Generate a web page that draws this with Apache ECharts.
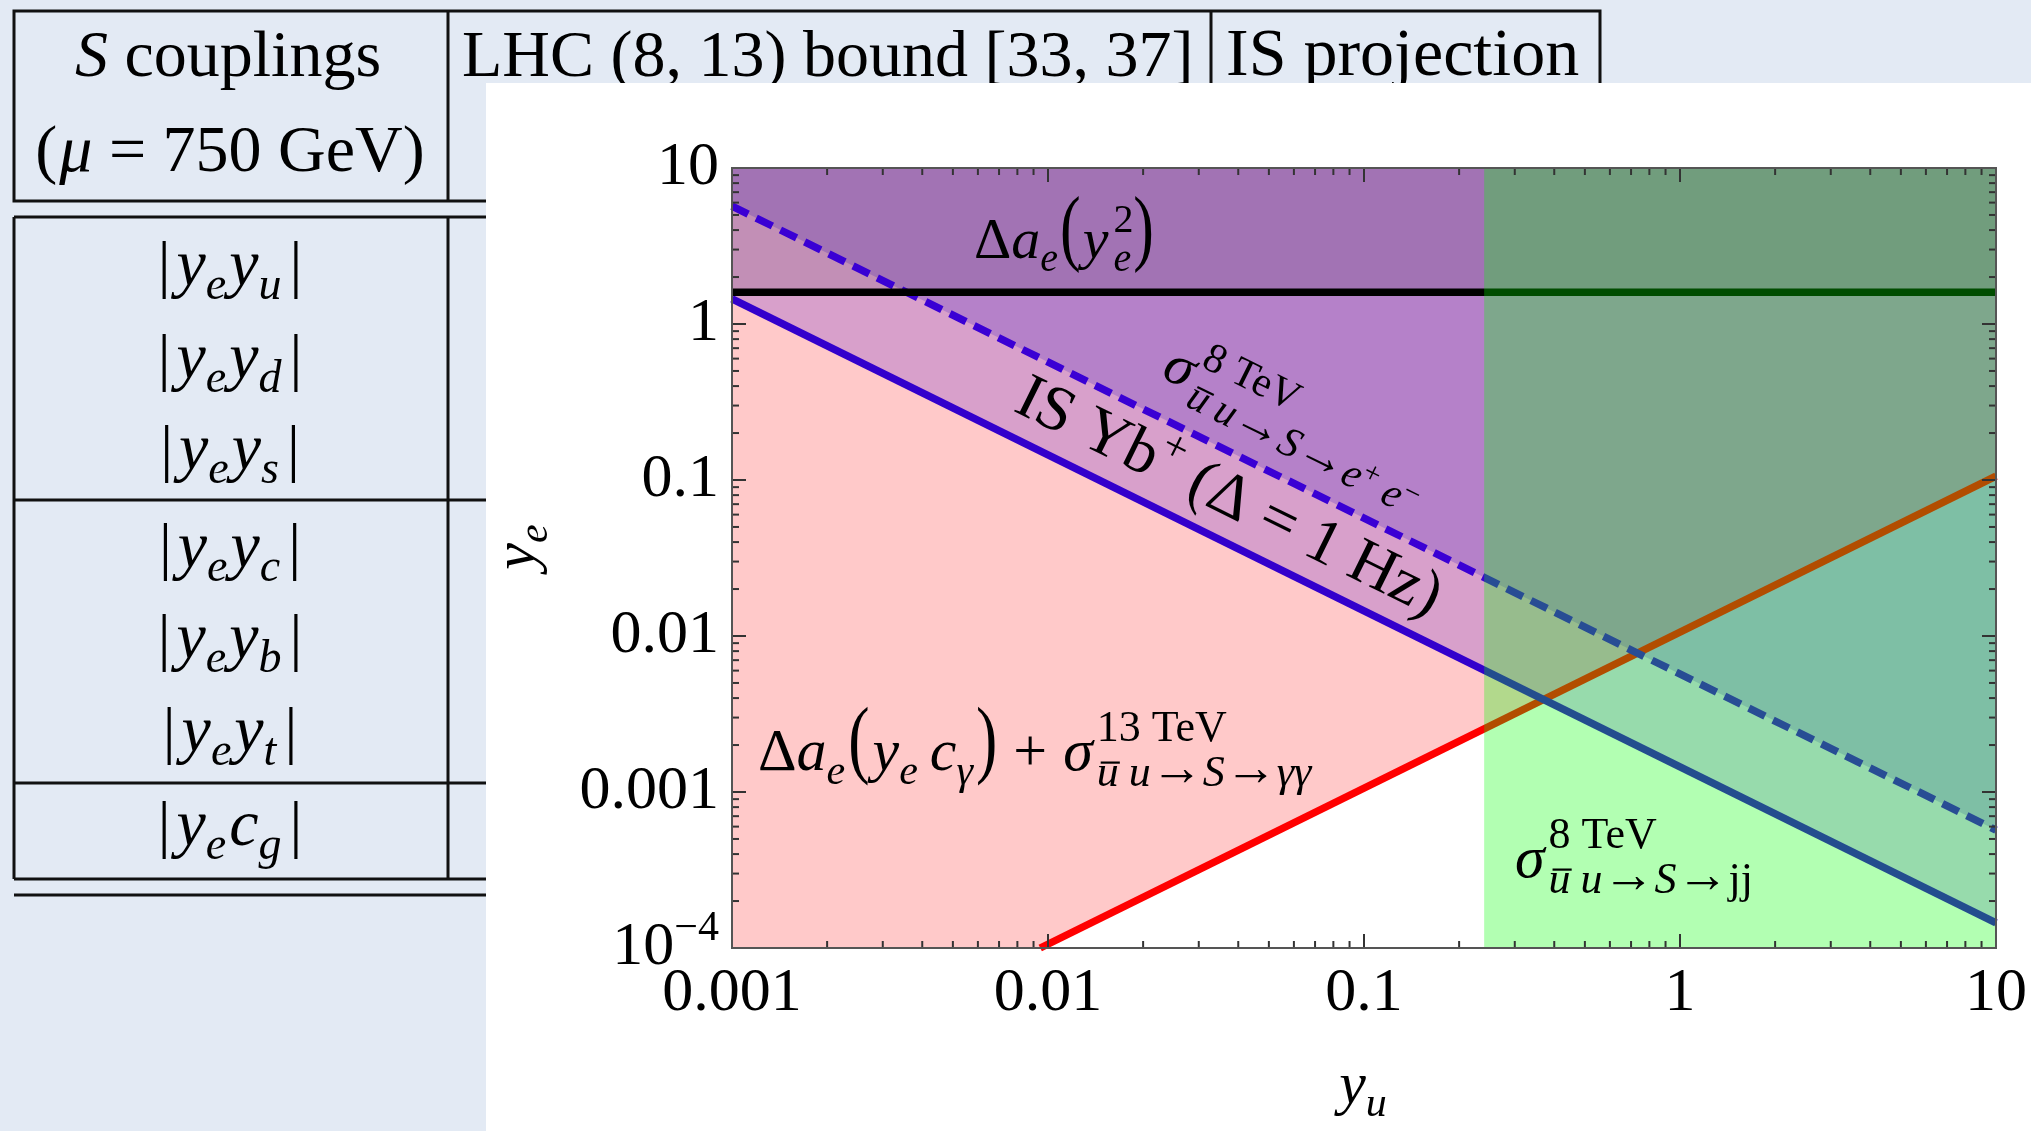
<!DOCTYPE html>
<html><head><meta charset="utf-8">
<script src="https://cdn.jsdelivr.net/npm/echarts@6/dist/echarts.min.js"></script>
<style>html,body{margin:0;padding:0;background:#e3eaf4;} #c{width:2031px;height:1131px;}</style>
</head><body><div id="c"></div>
<script>
// ---------------- data ----------------
const xRange = [0.001, 10];
const yRange = [1e-4, 10];
const xTickValues = [0.001, 0.01, 0.1, 1, 10];
const xTickLabels = ['0.001', '0.01', '0.1', '1', '10'];
const yTickValues = [1e-4, 0.001, 0.01, 0.1, 1, 10];
const yTickLabels = ['10^-4', '0.001', '0.01', '0.1', '1', '10'];
const minorMultipliers = [2, 3, 4, 5, 6, 7, 8, 9];
// boundary curves, points are [y_u, y_e]
const gammaGammaBound = [[0.00945, 1e-4], [10, 0.106]];   // red, excluded above
const isProjection   = [[0.001, 1.45], [10, 1.45e-4]];    // solid blue, IS Yb+
const eeBound        = [[0.001, 5.7], [10, 5.7e-4]];      // dashed, 8 TeV e+e-
const ae2Bound       = [[0.001, 1.6], [10, 1.6]];         // black, Delta a_e(y_e^2)
const jjBoundYu      = [0.24, 10];                        // 8 TeV jj excluded y_u band
const rowSubscripts  = [['y','u'], ['y','d'], ['y','s'], ['y','c'], ['y','b'], ['y','t'], ['c','g']];

// ---------------- helpers ----------------
const FF = '"Liberation Serif", "Times New Roman", serif';
const mctx = document.createElement('canvas').getContext('2d');
function mw(p) { mctx.font = (p.it ? 'italic ' : '') + p.s + 'px ' + FF; return mctx.measureText(p.t).width; }
function math(parts, z) {
  let x = 0; const els = [];
  for (const p of parts) {
    x += (p.k || 0);
    const w = mw(p);
    const dy = p.dy || 0;
    const el = {type: 'text', x: x, y: dy - 0.33 * p.s, z: z,
      style: {text: p.t, fontSize: p.s, fontFamily: FF, fontStyle: p.it ? 'italic' : 'normal', fill: '#000',
        align: 'left', verticalAlign: 'middle', textAlign: 'left', textVerticalAlign: 'middle'}};
    if (p.sy) { el.scaleY = p.sy; el.originX = 0; el.originY = 0.095 * p.s; }
    els.push(el);
    if (p.bar) {
      const by = dy - 0.6 * p.s;
      els.push({type: 'line', z: z, shape: {x1: x + 0.18 * w, y1: by, x2: x + 1.05 * w, y2: by},
        style: {stroke: '#000', lineWidth: Math.max(1.5, p.s * 0.05)}});
    }
    if (!p.na) x += w;
  }
  return {els, width: x};
}
function mathGroup(parts, x, y, rot, center, z) {
  const m = math(parts, z === undefined ? 100 : z);
  if (center) m.els.forEach(e => {
    if (e.type === 'text') e.x -= m.width / 2; else { e.shape.x1 -= m.width / 2; e.shape.x2 -= m.width / 2; }
  });
  return {type: 'group', x: x, y: y, rotation: rot || 0, children: m.els};
}
function isMajor(v, majors) { return majors.some(t => Math.abs(Math.log10(t) - Math.log10(v)) < 1e-6); }
function labelFn(vals, labs) {
  return v => {
    const i = vals.findIndex(t => Math.abs(Math.log10(t) - Math.log10(v)) < 1e-6);
    const s = i >= 0 ? labs[i] : String(v);
    if (s.indexOf('^') >= 0) { const [b, e] = s.split('^'); return '{b|' + b + '}{p|' + e.replace('-', '\u2212') + '}'; }
    return s;
  };
}
function minorTicks(majors) {
  const out = [];
  for (let i = 0; i < majors.length - 1; i++) minorMultipliers.forEach(m => out.push(majors[i] * m));
  return out;
}
const xTicksAll = xTickValues.concat(minorTicks(xTickValues));
const yTicksAll = yTickValues.concat(minorTicks(yTickValues));

function fillAbove(line, color) {
  return {
    type: 'custom', coordinateSystem: 'cartesian2d', z: 2, silent: true, animation: false,
    data: [[xRange[0], yRange[0]]],
    renderItem: (params, api) => {
      const pts = [[xRange[0], yRange[1]]];
      if (line[0][0] > xRange[0]) pts.push([xRange[0], line[0][1]]);
      line.forEach(p => pts.push(p));
      pts.push([xRange[1], yRange[1]]);
      return {type: 'polygon', shape: {points: pts.map(p => api.coord(p))}, style: {fill: color}};
    }
  };
}
function lineSeries(data, color, dash) {
  return {type: 'line', data: data, symbol: 'none', z: 3, animation: false, silent: true, clip: true,
    lineStyle: {color: color, width: 7.5, type: dash || 'solid', cap: 'butt'}};
}

// ---------------- chart ----------------
const chart = echarts.init(document.getElementById('c'), null, {renderer: 'canvas', width: 2031, height: 1131});
const TICK = '#333';
const axisCommon = {axisLine: {show: false}, axisTick: {show: false}, splitLine: {show: false}, minorTick: {show: false}, z: 20};
const option = {
  backgroundColor: '#e3eaf4',
  animation: false,
  grid: {left: 732, top: 168, width: 1264, height: 780, show: false},
  xAxis: Object.assign({type: 'log', logBase: 10, min: xRange[0], max: xRange[1],
    axisLabel: {formatter: labelFn(xTickValues, xTickLabels), fontSize: 62, lineHeight: 62, fontFamily: FF, color: '#000', margin: 15}}, axisCommon),
  yAxis: Object.assign({type: 'log', logBase: 10, min: yRange[0], max: yRange[1],
    axisLabel: {formatter: labelFn(yTickValues, yTickLabels), fontSize: 62, lineHeight: 62, fontFamily: FF, color: '#000', margin: 13,
      rich: {b: {fontSize: 62, fontFamily: FF, lineHeight: 80, verticalAlign: 'middle', color: '#000'},
             p: {fontSize: 42, fontFamily: FF, lineHeight: 42, verticalAlign: 'top', color: '#000'}}}}, axisCommon),
  series: [
    fillAbove(gammaGammaBound, 'rgba(255,0,0,0.21)'),
    fillAbove(isProjection, 'rgba(62,0,216,0.2)'),
    fillAbove(eeBound, 'rgba(39,0,194,0.194)'),
    fillAbove(ae2Bound, 'rgba(0,0,0,0.1)'),
    lineSeries(gammaGammaBound, '#ff0000'),
    lineSeries(isProjection, '#3300cc'),
    lineSeries(eeBound, '#3a00d4', [18, 9]),
    lineSeries(ae2Bound, '#000000'),
    {type: 'custom', coordinateSystem: 'cartesian2d', z: 4, silent: true, data: [[jjBoundYu[0], yRange[0]]],
      renderItem: (params, api) => {
        const a = api.coord([jjBoundYu[0], yRange[1]]), b = api.coord([jjBoundYu[1], yRange[0]]);
        return {type: 'rect', shape: {x: a[0], y: a[1], width: b[0] - a[0], height: b[1] - a[1]}, style: {fill: 'rgba(0,255,0,0.3)'}};
      }},
    {type: 'custom', coordinateSystem: 'cartesian2d', z: 5, silent: true, data: xTicksAll.map(v => [v, yRange[0]]),
      renderItem: (params, api) => {
        const v = xTicksAll[params.dataIndex]; const L = isMajor(v, xTickValues) ? 14 : 7;
        const b = api.coord([v, yRange[0]]), t = api.coord([v, yRange[1]]);
        return {type: 'group', children: [
          {type: 'line', shape: {x1: b[0], y1: b[1], x2: b[0], y2: b[1] - L}, style: {stroke: TICK, lineWidth: 2}},
          {type: 'line', shape: {x1: t[0], y1: t[1], x2: t[0], y2: t[1] + L}, style: {stroke: TICK, lineWidth: 2}}]};
      }},
    {type: 'custom', coordinateSystem: 'cartesian2d', z: 5, silent: true, data: yTicksAll.map(v => [xRange[0], v]),
      renderItem: (params, api) => {
        const v = yTicksAll[params.dataIndex]; const L = isMajor(v, yTickValues) ? 14 : 7;
        const l = api.coord([xRange[0], v]), r = api.coord([xRange[1], v]);
        return {type: 'group', children: [
          {type: 'line', shape: {x1: l[0], y1: l[1], x2: l[0] + L, y2: l[1]}, style: {stroke: TICK, lineWidth: 2}},
          {type: 'line', shape: {x1: r[0], y1: r[1], x2: r[0] - L, y2: r[1]}, style: {stroke: TICK, lineWidth: 2}}]};
      }},
    {type: 'custom', coordinateSystem: 'cartesian2d', z: 6, silent: true, data: [[xRange[0], yRange[0]]],
      renderItem: (params, api) => {
        const a = api.coord([xRange[0], yRange[1]]), b = api.coord([xRange[1], yRange[0]]);
        return {type: 'rect', shape: {x: a[0], y: a[1], width: b[0] - a[0], height: b[1] - a[1]}, style: {fill: 'none', stroke: '#555', lineWidth: 2}};
      }}
  ]
};
chart.setOption(option);

// ---------------- background table + panel + labels ----------------
const p0 = chart.convertToPixel({gridIndex: 0}, isProjection[0]);
const p1 = chart.convertToPixel({gridIndex: 0}, isProjection[1]);
const ang = Math.atan2(p1[1] - p0[1], p1[0] - p0[0]);
const rot = -ang;

const TL = '#111', TW = 3;
function ln(x1, y1, x2, y2) { return {type: 'line', z: 0, shape: {x1, y1, x2, y2}, style: {stroke: TL, lineWidth: TW}}; }
const table = [
  {type: 'rect', z: 0, shape: {x: 14, y: 11, width: 1586, height: 190}, style: {fill: 'none', stroke: TL, lineWidth: TW}},
  ln(448, 11, 448, 201), ln(1211, 11, 1211, 201),
  ln(14, 217, 560, 217), ln(14, 879, 560, 879), ln(14, 217, 14, 879), ln(448, 217, 448, 879),
  ln(14, 500, 560, 500), ln(14, 783, 560, 783), ln(14, 895, 560, 895),
  mathGroup([{t: 'S', s: 66, it: 1}, {t: ' couplings', s: 66}], 228, 80, 0, true, 0),
  mathGroup([{t: '(', s: 66}, {t: '\u03bc', s: 66, it: 1, k: 2}, {t: ' = 750 GeV)', s: 66}], 230, 175, 0, true, 0),
  mathGroup([{t: 'LHC (8, 13) bound [33, 37]', s: 66}], 462, 80, 0, false, 0),
  mathGroup([{t: 'IS projection', s: 68}], 1226, 80, 0, false, 0)
];
const rowCenters = [272, 365, 456, 554, 645, 738, 832];
rowSubscripts.forEach((rs, i) => {
  table.push(mathGroup([
    {t: '|', s: 64}, {t: 'y', s: 66, it: 1, k: 6}, {t: 'e', s: 46, it: 1, dy: 13},
    {t: rs[0], s: 66, it: 1, k: 3}, {t: rs[1], s: 46, it: 1, dy: 13}, {t: '|', s: 64, k: 8}
  ], 230, rowCenters[i] + 17, 0, true, 0));
});
const panel = {type: 'rect', z: 1, shape: {x: 486, y: 83, width: 1545, height: 1048}, style: {fill: '#ffffff'}};

const SUB = 15, SUP = -30;
const labels = [
  // Delta a_e(y_e^2)
  mathGroup([{t: '\u0394', s: 58}, {t: 'a', s: 58, it: 1}, {t: 'e', s: 40, it: 1, dy: 12},
    {t: '(', s: 62, sy: 1.35, dy: -6, k: 2}, {t: 'y', s: 58, it: 1, k: 2},
    {t: '2', s: 40, dy: -27, na: 1, k: 5}, {t: 'e', s: 40, it: 1, dy: 12},
    {t: ')', s: 62, sy: 1.35, dy: -6, k: 2}], 974, 262),
  // Delta a_e(y_e c_gamma) + sigma 13 TeV gamma gamma
  mathGroup([{t: '\u0394', s: 60}, {t: 'a', s: 60, it: 1}, {t: 'e', s: 42, it: 1, dy: 13},
    {t: '(', s: 64, sy: 1.35, dy: -6, k: 3}, {t: 'y', s: 60, it: 1, k: 3}, {t: 'e', s: 42, it: 1, dy: 13},
    {t: 'c', s: 60, it: 1, k: 12}, {t: '\u03b3', s: 42, it: 1, dy: 13}, {t: ')', s: 64, sy: 1.35, dy: -6, k: 3},
    {t: '+', s: 60, k: 16}, {t: '\u03c3', s: 60, it: 1, k: 16},
    {t: '13 TeV', s: 44, dy: SUP, na: 1, k: 4},
    {t: 'u', s: 44, it: 1, dy: SUB, bar: 1}, {t: 'u', s: 44, it: 1, dy: SUB, k: 10},
    {t: '\u2192', s: 52, dy: SUB}, {t: 'S', s: 44, it: 1, dy: SUB}, {t: '\u2192', s: 52, dy: SUB},
    {t: '\u03b3\u03b3', s: 44, it: 1, dy: SUB}], 758, 774),
  // sigma 8 TeV jj
  mathGroup([{t: '\u03c3', s: 60, it: 1}, {t: '8 TeV', s: 44, dy: SUP, na: 1, k: 4},
    {t: 'u', s: 44, it: 1, dy: SUB, bar: 1}, {t: 'u', s: 44, it: 1, dy: SUB, k: 10},
    {t: '\u2192', s: 52, dy: SUB}, {t: 'S', s: 44, it: 1, dy: SUB}, {t: '\u2192', s: 52, dy: SUB},
    {t: 'jj', s: 44, dy: SUB}], 1515, 881),
  // sigma 8 TeV e+e- (rotated)
  mathGroup([{t: '\u03c3', s: 58, it: 1}, {t: '8 TeV', s: 42, dy: -28, na: 1, k: 3},
    {t: 'u', s: 42, it: 1, dy: 14, bar: 1, k: 3}, {t: 'u', s: 42, it: 1, dy: 14, k: 9},
    {t: '\u2192', s: 50, dy: 14}, {t: 'S', s: 42, it: 1, dy: 14}, {t: '\u2192', s: 50, dy: 14},
    {t: 'e', s: 42, it: 1, dy: 14}, {t: '+', s: 30, dy: 0}, {t: 'e', s: 42, it: 1, dy: 14, k: 9},
    {t: '\u2212', s: 30, dy: 0}], 1158, 380, rot),
  // IS Yb+ (Delta = 1 Hz) (rotated)
  mathGroup([{t: 'IS Yb', s: 64}, {t: '+', s: 44, dy: -27}, {t: ' (\u0394 = 1 Hz)', s: 64}], 1010, 414, rot),
  // axis titles
  mathGroup([{t: 'y', s: 60, it: 1}, {t: 'u', s: 42, it: 1, dy: 12}], 1363, 1107, 0, true),
  mathGroup([{t: 'y', s: 60, it: 1}, {t: 'e', s: 42, it: 1, dy: 12}], 538, 547, Math.PI / 2, true)
];

chart.setOption({graphic: {elements: table.concat([panel], labels)}});
</script></body></html>
